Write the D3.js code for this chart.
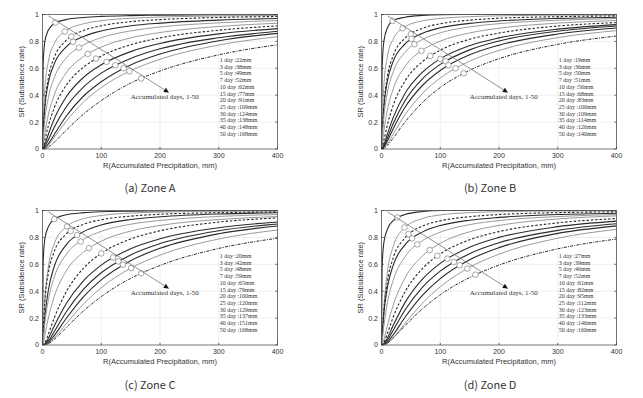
<!DOCTYPE html>
<html>
<head>
<meta charset="utf-8">
<script src="https://cdn.jsdelivr.net/npm/d3@7"></script>
<style>
  body { margin: 0; background: #fff; }
  svg { display: block; }
  .tick-label { font-family: "Liberation Sans", Arial, sans-serif; font-size: 7px; fill: #333; }
  .axis-title { font-family: "Liberation Sans", Arial, sans-serif; font-size: 7.5px; fill: #333; }
  .legend-text { font-family: "Liberation Serif", "Times New Roman", serif; font-size: 6px; fill: #333; }
  .arrow-text { font-family: "Liberation Serif", "Times New Roman", serif; font-size: 7px; fill: #333; }
  .caption { font-family: "Noto Sans CJK KR", "Noto Sans", sans-serif; font-size: 11px; fill: #333; }
</style>
</head>
<body>
<svg class="zones" width="643" height="398"></svg>
<script>
const xSamples = [0, 1, 4, 10, 20, 40, 70, 100, 150, 200, 300, 400];

const days = [1, 3, 5, 7, 10, 15, 20, 25, 30, 35, 40, 50];

// SR read at xSamples, one row per accumulated-days curve
const curvesA = [
  [0, 0.62, 0.80, 0.885, 0.932, 0.962, 0.978, 0.986, 0.992, 0.995, 0.998, 0.999],
  [0, 0.184, 0.451, 0.652, 0.782, 0.879, 0.931, 0.954, 0.972, 0.981, 0.989, 0.993],
  [0, 0.109, 0.329, 0.53, 0.68, 0.806, 0.881, 0.916, 0.947, 0.962, 0.978, 0.985],
  [0, 0.115, 0.313, 0.494, 0.633, 0.757, 0.837, 0.878, 0.916, 0.936, 0.958, 0.97],
  [0, 0.061, 0.213, 0.382, 0.53, 0.674, 0.774, 0.828, 0.878, 0.907, 0.938, 0.955],
  [0, 0.022, 0.116, 0.256, 0.402, 0.564, 0.688, 0.758, 0.826, 0.866, 0.911, 0.935],
  [0, 0.008, 0.064, 0.173, 0.306, 0.471, 0.609, 0.691, 0.775, 0.826, 0.883, 0.915],
  [0, 0.003, 0.033, 0.11, 0.224, 0.385, 0.533, 0.626, 0.724, 0.785, 0.856, 0.895],
  [0, 0.001, 0.016, 0.069, 0.161, 0.31, 0.462, 0.564, 0.673, 0.745, 0.827, 0.875],
  [0, 0, 0.006, 0.038, 0.108, 0.242, 0.394, 0.50, 0.625, 0.706, 0.805, 0.86],
  [0, 0, 0.004, 0.028, 0.086, 0.204, 0.35, 0.457, 0.582, 0.667, 0.773, 0.835],
  [0, 0, 0.002, 0.014, 0.05, 0.138, 0.26, 0.36, 0.49, 0.58, 0.70, 0.775]
];
const curvesB = [
  [0, 0.6, 0.8, 0.9, 0.955, 0.98, 0.993, 0.998, 1, 1, 1, 1],
  [0, 0.175, 0.468, 0.685, 0.818, 0.909, 0.953, 0.971, 0.984, 0.99, 0.995, 0.997],
  [0, 0.096, 0.321, 0.537, 0.695, 0.824, 0.898, 0.931, 0.958, 0.972, 0.984, 0.99],
  [0, 0.102, 0.309, 0.504, 0.653, 0.781, 0.861, 0.901, 0.934, 0.952, 0.971, 0.98],
  [0, 0.066, 0.235, 0.419, 0.574, 0.719, 0.815, 0.864, 0.908, 0.932, 0.957, 0.97],
  [0, 0.025, 0.132, 0.289, 0.447, 0.614, 0.736, 0.802, 0.863, 0.898, 0.936, 0.955],
  [0, 0.007, 0.063, 0.18, 0.326, 0.505, 0.651, 0.735, 0.816, 0.862, 0.914, 0.94],
  [0, 0.002, 0.03, 0.111, 0.235, 0.413, 0.572, 0.67, 0.768, 0.826, 0.891, 0.925],
  [0, 0.001, 0.018, 0.08, 0.189, 0.359, 0.524, 0.629, 0.737, 0.803, 0.876, 0.915],
  [0, 0, 0.012, 0.059, 0.151, 0.31, 0.474, 0.584, 0.70, 0.772, 0.855, 0.90],
  [0, 0, 0.006, 0.038, 0.112, 0.254, 0.414, 0.528, 0.653, 0.733, 0.828, 0.88],
  [0, 0, 0.004, 0.026, 0.082, 0.20, 0.347, 0.457, 0.585, 0.671, 0.778, 0.84]
];
const curvesC = [
  [0, 0.6, 0.79, 0.88, 0.936, 0.968, 0.984, 0.991, 0.995, 0.997, 0.999, 1],
  [0, 0.083, 0.333, 0.58, 0.752, 0.877, 0.939, 0.963, 0.981, 0.988, 0.995, 0.997],
  [0, 0.096, 0.321, 0.536, 0.695, 0.824, 0.898, 0.931, 0.958, 0.972, 0.984, 0.99],
  [0, 0.045, 0.208, 0.409, 0.584, 0.743, 0.843, 0.892, 0.933, 0.953, 0.974, 0.983],
  [0, 0.031, 0.16, 0.336, 0.504, 0.671, 0.786, 0.845, 0.898, 0.926, 0.956, 0.97],
  [0, 0.008, 0.072, 0.202, 0.36, 0.547, 0.691, 0.772, 0.847, 0.889, 0.933, 0.955],
  [0, 0.0005, 0.016, 0.081, 0.201, 0.392, 0.572, 0.681, 0.788, 0.849, 0.914, 0.945],
  [0, 0, 0.008, 0.05, 0.141, 0.305, 0.479, 0.594, 0.716, 0.79, 0.872, 0.915],
  [0, 0, 0.004, 0.03, 0.099, 0.244, 0.415, 0.537, 0.67, 0.754, 0.85, 0.90],
  [0, 0, 0.002, 0.018, 0.07, 0.195, 0.36, 0.484, 0.627, 0.719, 0.827, 0.885],
  [0, 0, 0.001, 0.012, 0.051, 0.156, 0.306, 0.426, 0.571, 0.668, 0.788, 0.855],
  [0, 0, 0.001, 0.01, 0.042, 0.128, 0.254, 0.36, 0.495, 0.591, 0.718, 0.794]
];
const curvesD = [
  [0, 0.58, 0.76, 0.86, 0.925, 0.97, 0.992, 1, 1, 1, 1, 1],
  [0, 0.051, 0.278, 0.541, 0.734, 0.874, 0.941, 0.967, 0.984, 0.991, 0.996, 0.998],
  [0, 0.059, 0.253, 0.472, 0.648, 0.797, 0.884, 0.923, 0.954, 0.97, 0.984, 0.99],
  [0, 0.057, 0.23, 0.428, 0.594, 0.745, 0.841, 0.888, 0.928, 0.949, 0.97, 0.98],
  [0, 0.025, 0.141, 0.313, 0.483, 0.656, 0.777, 0.839, 0.895, 0.925, 0.955, 0.97],
  [0, 0.002, 0.039, 0.144, 0.297, 0.498, 0.663, 0.756, 0.842, 0.889, 0.937, 0.96],
  [0, 0.001, 0.019, 0.087, 0.208, 0.395, 0.57, 0.677, 0.782, 0.843, 0.908, 0.94],
  [0, 0, 0.009, 0.052, 0.146, 0.315, 0.491, 0.607, 0.727, 0.80, 0.88, 0.921],
  [0, 0, 0.005, 0.035, 0.11, 0.26, 0.431, 0.549, 0.679, 0.76, 0.852, 0.901],
  [0, 0, 0.002, 0.021, 0.076, 0.206, 0.371, 0.494, 0.634, 0.724, 0.83, 0.886],
  [0, 0, 0.001, 0.012, 0.053, 0.16, 0.312, 0.433, 0.578, 0.675, 0.794, 0.86],
  [0, 0, 0.002, 0.014, 0.052, 0.144, 0.27, 0.373, 0.502, 0.594, 0.715, 0.788]
];

// marked points: precipitation (legend) and SR of each circle
const mmA = [22, 38, 49, 52, 62, 77, 91, 109, 124, 138, 148, 168];
const srA = [0.94, 0.873, 0.836, 0.797, 0.754, 0.707, 0.672, 0.648, 0.623, 0.60, 0.578, 0.524];
const mmB = [19, 36, 50, 51, 56, 68, 83, 100, 109, 114, 126, 140];
const srB = [0.953, 0.898, 0.854, 0.819, 0.779, 0.73, 0.692, 0.67, 0.653, 0.623, 0.60, 0.563];
const mmC = [20, 42, 48, 59, 65, 79, 100, 120, 129, 137, 151, 168];
const srC = [0.936, 0.882, 0.848, 0.818, 0.769, 0.72, 0.681, 0.651, 0.622, 0.597, 0.572, 0.533];
const mmD = [27, 39, 46, 52, 61, 82, 95, 112, 123, 133, 146, 160];
const srD = [0.948, 0.874, 0.825, 0.793, 0.748, 0.706, 0.664, 0.642, 0.617, 0.593, 0.568, 0.523];

const xTicks = [0, 100, 200, 300, 400];
const yTicks = [0, 0.2, 0.4, 0.6, 0.8, 1];

// line style of each curve
const curveStyles = ['dark', 'gray', 'dash', 'dark', 'gray', 'gray', 'dash', 'dark', 'dark', 'dark', 'gray', 'dashdot'];
const styleMap = {
  dark:    { stroke: '#2a2a2a', width: 1.1, dash: null },
  gray:    { stroke: '#9a9a9a', width: 1,   dash: null },
  dash:    { stroke: '#2a2a2a', width: 1.1, dash: '2.5,1.8' },
  dashdot: { stroke: '#2a2a2a', width: 1,   dash: '3,1.2,1,1.2' }
};

const panels = [
  { caption: '(a) Zone A', left: 42.5,  top: 14.5,  curves: curvesA, mm: mmA, sr: srA, capX: 150, capY: 192 },
  { caption: '(b) Zone B', left: 381.5, top: 14.5,  curves: curvesB, mm: mmB, sr: srB, capX: 490, capY: 192 },
  { caption: '(c) Zone C', left: 42.5,  top: 210.5, curves: curvesC, mm: mmC, sr: srC, capX: 150, capY: 389 },
  { caption: '(d) Zone D', left: 381.5, top: 210.5, curves: curvesD, mm: mmD, sr: srD, capX: 490, capY: 389 }
];

const plotW = 235;
const plotH = 134.5;

const svg = d3.select('svg.zones');

svg.append('defs').append('marker')
    .attr('id', 'arrowhead')
    .attr('markerUnits', 'userSpaceOnUse')
    .attr('viewBox', '0 0 10 10')
    .attr('refX', 10).attr('refY', 5)
    .attr('markerWidth', 6).attr('markerHeight', 5)
    .attr('orient', 'auto')
  .append('path')
    .attr('d', 'M0,0 L10,5 L0,10 z')
    .attr('fill', '#111');

const xScale = d3.scaleLinear().domain([0, 400]).range([0, plotW]);
const yScale = d3.scaleLinear().domain([0, 1]).range([plotH, 0]);

const lineGen = d3.line()
    .x(d => xScale(d[0]))
    .y(d => yScale(d[1]))
    .curve(d3.curveMonotoneX);

panels.forEach((p, pi) => {
  const g = svg.append('g').attr('transform', `translate(${p.left}, ${p.top})`);

  g.append('clipPath').attr('id', 'clip' + pi)
    .append('rect').attr('width', plotW).attr('height', plotH);

  // grid
  g.append('g').selectAll('line').data(xTicks.slice(1, -1))
    .enter().append('line')
      .attr('x1', d => xScale(d)).attr('x2', d => xScale(d))
      .attr('y1', 0).attr('y2', plotH)
      .attr('stroke', '#e4e4e4').attr('stroke-width', 0.6);
  g.append('g').selectAll('line').data(yTicks.slice(1, -1))
    .enter().append('line')
      .attr('y1', d => yScale(d)).attr('y2', d => yScale(d))
      .attr('x1', 0).attr('x2', plotW)
      .attr('stroke', '#e4e4e4').attr('stroke-width', 0.6);

  // curves
  const cg = g.append('g').attr('clip-path', `url(#clip${pi})`);
  p.curves.forEach((row, i) => {
    const st = styleMap[curveStyles[i]];
    cg.append('path')
      .attr('d', lineGen(row.map((v, k) => [xSamples[k], v])))
      .attr('fill', 'none')
      .attr('stroke', st.stroke)
      .attr('stroke-width', st.width)
      .attr('stroke-dasharray', st.dash);
  });

  // circles
  g.append('g').selectAll('circle').data(p.mm)
    .enter().append('circle')
      .attr('cx', d => xScale(d))
      .attr('cy', (d, i) => yScale(p.sr[i]))
      .attr('r', 2.8)
      .attr('fill', '#fff')
      .attr('stroke', '#808080')
      .attr('stroke-width', 0.7);

  // arrow
  g.append('line')
    .attr('x1', xScale(10)).attr('y1', yScale(0.99))
    .attr('x2', xScale(215)).attr('y2', yScale(0.42))
    .attr('stroke', '#777').attr('stroke-width', 0.8)
    .attr('marker-end', 'url(#arrowhead)');
  g.append('text').attr('class', 'arrow-text')
    .attr('x', xScale(150)).attr('y', yScale(0.372))
    .text('Accumulated days, 1-50');

  // legend
  g.append('g').selectAll('text').data(days)
    .enter().append('text')
      .attr('class', 'legend-text')
      .attr('x', xScale(300) + 1)
      .attr('y', (d, i) => 47.5 + i * 6.7)
      .text((d, i) => `${d} day :${p.mm[i]}mm`);

  // box and ticks
  g.append('rect')
    .attr('width', plotW).attr('height', plotH)
    .attr('fill', 'none').attr('stroke', '#3a3a3a').attr('stroke-width', 0.7);
  g.append('g').selectAll('line').data(xTicks)
    .enter().append('line')
      .attr('x1', d => xScale(d)).attr('x2', d => xScale(d))
      .attr('y1', plotH).attr('y2', plotH - 2.2)
      .attr('stroke', '#3a3a3a').attr('stroke-width', 0.7);
  g.append('g').selectAll('line').data(yTicks)
    .enter().append('line')
      .attr('y1', d => yScale(d)).attr('y2', d => yScale(d))
      .attr('x1', 0).attr('x2', 2.2)
      .attr('stroke', '#3a3a3a').attr('stroke-width', 0.7);
  g.append('g').selectAll('line').data(yTicks)
    .enter().append('line')
      .attr('y1', d => yScale(d)).attr('y2', d => yScale(d))
      .attr('x1', plotW).attr('x2', plotW - 2.2)
      .attr('stroke', '#3a3a3a').attr('stroke-width', 0.7);

  g.append('g').selectAll('text').data(xTicks)
    .enter().append('text')
      .attr('class', 'tick-label')
      .attr('x', d => xScale(d)).attr('y', plotH + 8.5)
      .attr('text-anchor', 'middle')
      .text(d => d);
  g.append('g').selectAll('text').data(yTicks)
    .enter().append('text')
      .attr('class', 'tick-label')
      .attr('x', -3.5).attr('y', d => yScale(d))
      .attr('dy', '0.35em')
      .attr('text-anchor', 'end')
      .text(d => d);

  g.append('text').attr('class', 'axis-title')
    .attr('x', plotW / 2).attr('y', plotH + 18.5)
    .attr('text-anchor', 'middle')
    .text('R(Accumulated Precipitation, mm)');
  g.append('text').attr('class', 'axis-title')
    .attr('transform', `translate(-19, ${plotH / 2}) rotate(-90)`)
    .attr('text-anchor', 'middle')
    .text('SR (Subsidence rate)');

  svg.append('text').attr('class', 'caption')
    .attr('x', p.capX).attr('y', p.capY)
    .attr('text-anchor', 'middle')
    .text(p.caption);
});
</script>
</body>
</html>
